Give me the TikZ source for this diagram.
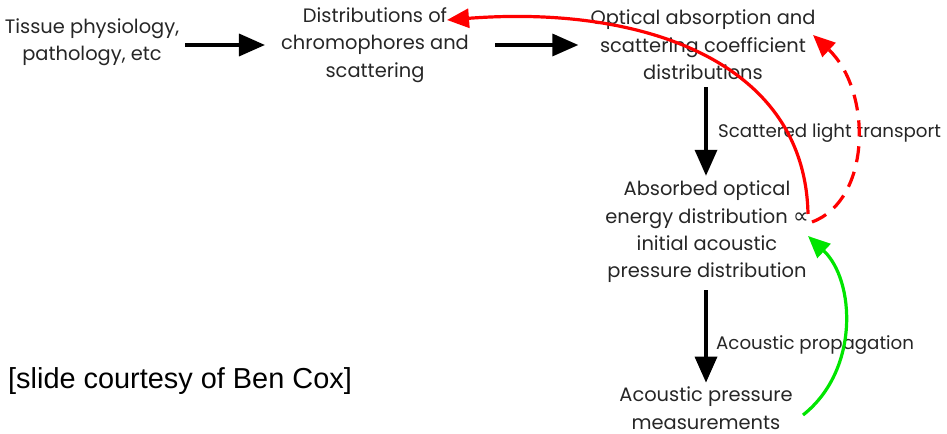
\documentclass[tikz,border=0pt]{standalone}
\usepackage{fontspec}
\setmainfont{Poppins}
\newfontfamily\slidefont{Liberation Sans}
\newfontfamily\mathsymfont{DejaVu Sans}
\usetikzlibrary{arrows.meta, positioning}
\tikzset{
  stepnode/.style={align=center, font=\fontsize{19.5}{27.5}\selectfont, text=black!85, inner sep=1pt},
  blkarrow/.style={-{Triangle[length=26bp, width=22bp]}, line width=3.5bp, black},
  redarrow/.style={-{Triangle[length=22bp, width=19bp]}, line width=3.2bp, red},
  grnarrow/.style={-{Triangle[length=22bp, width=19bp]}, line width=3.2bp, green!90!black},
  edgelabel/.style={font=\fontsize{18.3}{22}\selectfont, text=black!85, anchor=west, inner sep=0pt},
}

\begin{document}
\begin{tikzpicture}[x=1bp, y=-1bp]
  \useasboundingbox (0,0) rectangle (947,434);
  % chain of quantities
  \node[stepnode] (tissue) at (92,42) {Tissue physiology,\\pathology, etc};
  \node[stepnode] (chrom) at (375,45) {Distributions of\\chromophores and\\scattering};
  \node[stepnode] (coeff) at (703,45) {Optical absorption and\\scattering coefficient\\distributions};
  \node[stepnode] (energy) at (707,232) {Absorbed optical\\energy distribution {\mathsymfont\fontsize{22}{22}\selectfont ∝}\\initial acoustic\\pressure distribution};
  \node[stepnode] (meas) at (706,408) {Acoustic pressure\\measurements};
  \node[font=\slidefont\fontsize{29}{32}\selectfont, anchor=west, inner sep=0pt] (credit) at (8,381) {[slide courtesy of Ben Cox]};
  % forward arrows
  \draw[blkarrow, shorten <=5bp, shorten >=15bp] (tissue.east |- chrom.west) -- (chrom.west);
  \draw[blkarrow, shorten <=25bp, shorten >=11bp] (chrom.east) -- (coeff.west);
  \draw[blkarrow, shorten <=6bp, shorten >=4bp] (coeff.south -| meas) -- (energy.north -| meas);
  \draw[blkarrow, shorten <=6bp, shorten >=3bp] (energy.south -| meas) -- (meas.north);
  \node[edgelabel] (lscat) at (718,133) {Scattered light transport};
  \node[edgelabel] (lacou) at (716,345) {Acoustic propagation};
  % inversion loops
  \coordinate (prop) at (808,214);
  \coordinate (propb) at (812,222);
  \coordinate (propc) at (808,236);
  \coordinate (chromtip) at (447,20);
  \coordinate (coefftip) at (813,35);
  \coordinate (measfoot) at (803,415);
  \draw[redarrow] (prop) .. controls (805,60) and (640,5) .. (chromtip);
  \draw[redarrow, dash pattern=on 16bp off 10bp] (propb) .. controls (872,200) and (872,90) .. (coefftip);
  \draw[grnarrow] (measfoot) .. controls (860,370) and (855,280) .. (propc);
\end{tikzpicture}
\end{document}
